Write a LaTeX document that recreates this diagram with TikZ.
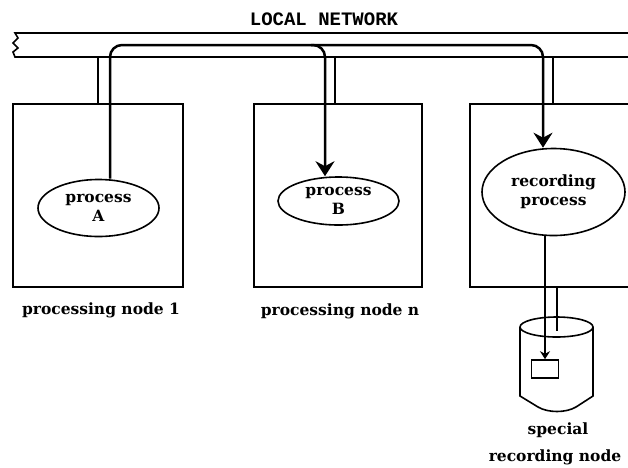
\documentclass[tikz,border=0pt]{standalone}
\usepackage{fontspec}
\usepackage{tikz}
\usetikzlibrary{arrows.meta,shapes.geometric}
\newfontfamily\procfont{DejaVu Serif}
\newfontfamily\netfont{Liberation Mono}

\begin{document}
\begin{tikzpicture}[x=1pt,y=-1pt,line width=1.6pt,
    proc/.style={ellipse,draw,inner sep=0pt,align=center,
      font=\procfont\bfseries\fontsize{15.5}{19}\selectfont},
    caption/.style={inner sep=0pt,font=\procfont\bfseries\fontsize{15.5}{19}\selectfont},
    nodebox/.style={draw,inner sep=0pt,minimum width=170pt,minimum height=183pt},
    signal/.style={line width=2.5pt,rounded corners=12pt},
    bigtip/.tip={Stealth[length=15pt,width=19pt,inset=5pt]}]
    \useasboundingbox (0,0) rectangle (628,467);

    % network rails, cut off at the left
    \draw (628,33) -- (15,33) -- (18,38) -- (13,43) -- (18,48) -- (13,52) -- (15,57) -- (628,57);
    \node[font=\netfont\bfseries\fontsize{19}{19}\selectfont,inner sep=0pt] (lan) at (324,19) {LOCAL NETWORK};

    \node[nodebox] (box1) at (98,195.5) {};
    \node[nodebox,minimum width=168pt] (boxn) at (338,195.5) {};
    \coordinate (box3) at (470,104);
    \coordinate (box3b) at (470,287);
    \draw (628,104) -- (box3) -- (box3b) -- (628,287);

    \node[proc,minimum width=121pt,minimum height=57pt] (procA) at (98.5,208) {process\\A};
    \node[proc,minimum width=121pt,minimum height=48pt] (procB) at (338.5,201) {process\\B};
    \node[proc,minimum width=143pt,minimum height=87pt] (recproc) at (553.5,192) {recording\\process};

    % taps from the rails down to the nodes
    \foreach \name/\x in {a1/98,an/335,a3/553} \coordinate (\name) at (\x,57);
    \foreach \name/\x in {s1/110,sn/325,s3/543} \coordinate (\name) at (\x,45);
    \draw (a1) -- (a1 |- box1.north);
    \draw (an) -- (an |- boxn.north);
    \draw (a3) -- (a3 |- box3);

    % messages sent by process A
    \draw[signal,-bigtip] (procA.north -| s1) -- (s1) -- (sn) -- (procB.north -| sn);
    \draw[signal,-bigtip] ([xshift=-14pt]sn) -- (s3) -- (recproc.north -| s3);

    % recording node (disk)
    \draw (556.5,327) ellipse [x radius=36.5,y radius=10];
    \draw (520,327) -- (520,396) -- (538,407) .. controls (548,413) and (566,413) .. (576,407)
      -- (593,396) -- (593,327);
    \node[draw,minimum width=27pt,minimum height=18pt,inner sep=0pt] (store) at (545,369) {};
    \coordinate (d1) at (557,331);
    \draw (d1 |- box3b) -- (d1);
    \draw[line width=2pt,-{Stealth[length=8pt,width=10pt]}] (recproc.south -| store) -- (store.north);

    \node[caption] (lab1) at (101,310) {processing node 1};
    \node[caption] (labn) at (340,311) {processing node n};
    \node[caption] (labs) at (558,430) {special};
    \node[caption] (labr) at (555,457) {recording node};
\end{tikzpicture}
\end{document}
